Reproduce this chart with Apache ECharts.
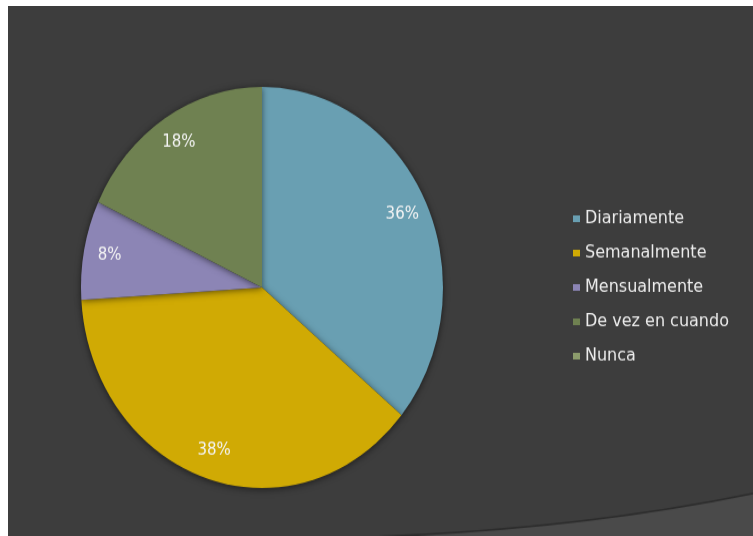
<!DOCTYPE html>
<html>
<head>
<meta charset="utf-8">
<script src="https://cdn.jsdelivr.net/npm/echarts@6/dist/echarts.min.js"></script>
<style>
  html, body { margin: 0; padding: 0; background: #ffffff; }
  #frame { position: absolute; left: 8px; top: 6px; width: 745px; height: 530px; overflow: hidden; background: #3d3d3d; }
  #chart { width: 745px; height: 478px; transform: scaleY(1.108); transform-origin: 0 0; }
</style>
</head>
<body>
<div id="frame"><div id="chart"></div></div>
<script>
// Frecuencia de uso
const categories = ['Diariamente', 'Semanalmente', 'Mensualmente', 'De vez en cuando', 'Nunca'];
const percentages = [36, 38, 8, 18, 0];
const sliceColors = ['#699fb2', '#d0aa04', '#8c85b5', '#6f8151', '#8c9c6c'];

const pieData = categories.map((name, i) => ({
  name: name,
  value: percentages[i],
  itemStyle: { color: sliceColors[i] }
}));

const center = [254, 254];
const radius = 181;

// lighter swoosh in the lower-right corner of the slide background
const swooshEdge = { x1: 322, y1: 480, cpx1: 550, cpy1: 476, x2: 745, y2: 440 };
const swooshPoints = [];
for (let k = 0; k <= 40; k++) {
  const t = k / 40;
  const x = (1 - t) * (1 - t) * swooshEdge.x1 + 2 * (1 - t) * t * swooshEdge.cpx1 + t * t * swooshEdge.x2;
  const y = (1 - t) * (1 - t) * swooshEdge.y1 + 2 * (1 - t) * t * swooshEdge.cpy1 + t * t * swooshEdge.y2;
  swooshPoints.push([x, y]);
}
swooshPoints.push([745, 480]);

const chart = echarts.init(document.getElementById('chart'), null, { renderer: 'canvas' });
chart.setOption({
  backgroundColor: '#3d3d3d',
  animation: false,
  graphic: [
    {
      type: 'polygon',
      z: -1,
      shape: { points: swooshPoints },
      style: { fill: '#4a4a4a' }
    },
    {
      type: 'bezierCurve',
      z: -1,
      shape: swooshEdge,
      style: { stroke: '#2c2c2c', lineWidth: 1.5, fill: null }
    }
  ],
  legend: {
    orient: 'vertical',
    left: 560,
    top: 179,
    data: categories,
    itemWidth: 7,
    itemHeight: 6,
    itemGap: 15,
    icon: 'rect',
    textStyle: { color: '#ececec', fontSize: 16, fontFamily: 'DejaVu Sans' }
  },
  series: [
    {
      name: 'Frecuencia',
      type: 'pie',
      center: center,
      radius: radius,
      startAngle: 90,
      clockwise: true,
      silent: true,
      label: { show: false },
      labelLine: { show: false },
      itemStyle: {
        borderWidth: 0,
        shadowBlur: 6,
        shadowColor: 'rgba(0,0,0,0.55)',
        shadowOffsetY: 1
      },
      data: pieData
    },
    {
      // ring used only to carry the percentage labels toward the rim
      name: 'Etiquetas',
      type: 'pie',
      center: center,
      radius: [radius * 0.68, radius],
      startAngle: 90,
      clockwise: true,
      silent: true,
      legendHoverLink: false,
      itemStyle: { color: 'rgba(0,0,0,0)' },
      label: {
        show: true,
        position: 'inside',
        color: '#f4f4f4',
        fontSize: 15,
        fontFamily: 'DejaVu Sans',
        formatter: p => (p.value > 0 ? p.value + '%' : '')
      },
      labelLine: { show: false },
      data: categories.map((name, i) => ({ name: name, value: percentages[i] }))
    }
  ]
});
</script>
</body>
</html>
